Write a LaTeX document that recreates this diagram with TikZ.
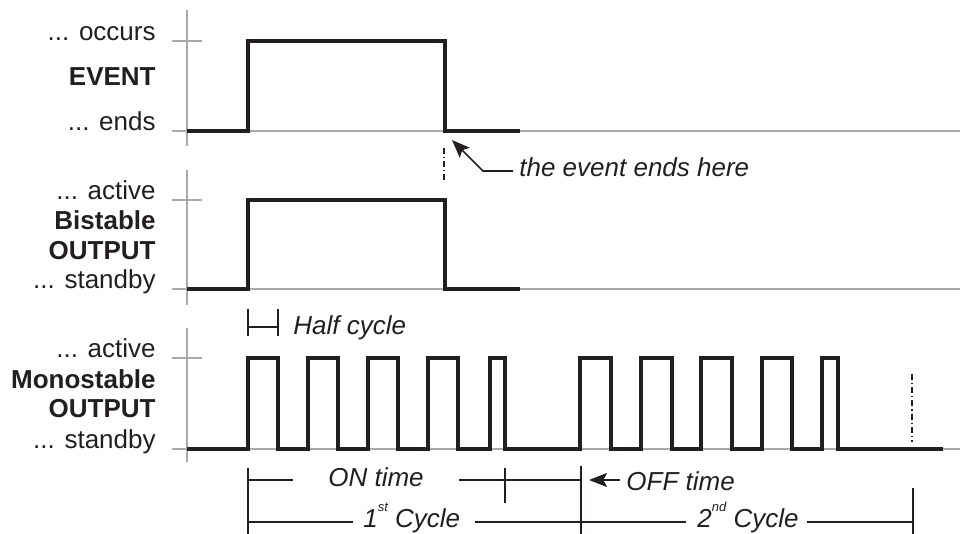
\documentclass[tikz,border=0pt]{standalone}
\usepackage{fontspec}
\setmainfont{Liberation Sans}
\usetikzlibrary{arrows.meta}
\definecolor{ink}{RGB}{35,31,32}
\definecolor{axisgrey}{RGB}{168,169,172}
\begin{document}
\begin{tikzpicture}[x=0.5pt,y=-0.5pt,
  axisline/.style={axisgrey,line width=1.4pt},
  sig/.style={ink,line width=1.6pt,line join=miter},
  dim/.style={ink,line width=0.8pt},
  lbl/.style={anchor=base east,inner sep=0pt,text=ink,font=\fontsize{13}{13}\selectfont},
  blbl/.style={lbl,font=\fontsize{13}{13}\selectfont\bfseries},
  note/.style={anchor=base west,inner sep=0pt,text=ink,font=\fontsize{13}{13}\selectfont\itshape},
  dashdot/.style={ink,line width=0.7pt,dash pattern=on 3pt off 1.5pt on 0.6pt off 1.5pt},
  tip/.style={-{Stealth[length=9pt,width=7pt,inset=1.8pt]}}
]
\useasboundingbox (0,0) rectangle (960,534);

% ---------- axes ----------
\draw[axisline] (187,10) -- (187,146);
\draw[axisline] (172,41) -- (202,41);
\draw[axisline] (172,131) -- (960,131);
\draw[axisline] (187,170) -- (187,305);
\draw[axisline] (172,200) -- (202,200);
\draw[axisline] (172,289) -- (960,289);
\draw[axisline] (187,328) -- (187,462);
\draw[axisline] (172,358) -- (202,358);
\draw[axisline] (172,449) -- (960,449);

% ---------- labels ----------
\node[lbl]  (occ) at (156,41)  {... occurs};
\node[blbl] (ev)  at (156,86)  {EVENT};
\node[lbl]  (end) at (156,131) {... ends};
\node[lbl]  (ba)  at (156,200) {... active};
\node[blbl] (bb)  at (156,230) {Bistable};
\node[blbl] (bo)  at (156,260) {OUTPUT};
\node[lbl]  (bs)  at (156,289) {... standby};
\node[lbl]  (ma)  at (156,358) {... active};
\node[blbl] (mm)  at (156,389) {Monostable};
\node[blbl] (mo)  at (156,418) {OUTPUT};
\node[lbl]  (ms)  at (156,449) {... standby};

% ---------- signals ----------
\draw[sig] (187,131) -- (248,131) -- (248,41) -- (445,41) -- (445,131) -- (520,131);
\draw[sig] (187,289) -- (248,289) -- (248,200) -- (445,200) -- (445,289) -- (520,289);
\draw[sig] (187,449) -- (248,449) -- (248,358) -- (278,358) -- (278,449)
  -- (308,449) -- (308,358) -- (338,358) -- (338,449)
  -- (368,449) -- (368,358) -- (398,358) -- (398,449)
  -- (428,449) -- (428,358) -- (458,358) -- (458,449)
  -- (490,449) -- (490,358) -- (505,358) -- (505,449)
  -- (580,449) -- (580,358) -- (611,358) -- (611,449)
  -- (641,449) -- (641,358) -- (672,358) -- (672,449)
  -- (701,449) -- (701,358) -- (732,358) -- (732,449)
  -- (762,449) -- (762,358) -- (792,358) -- (792,449)
  -- (822,449) -- (822,358) -- (838,358) -- (838,449) -- (943,449);

% ---------- dash-dot markers ----------
\draw[dashdot] (444,148) -- (444,183);
\draw[dashdot] (912,374) -- (912,442);

% ---------- event ends annotation ----------
\node[note] (evt) at (519,177) {the event ends here};
\coordinate (evtail) at (513,171);
\coordinate (evbend) at (483,171);
\coordinate (evtip)  at (452,140);
\draw[dim,tip] (evtail) -- (evbend) -- (evtip);

% ---------- half cycle ----------
\coordinate (hc1) at (248,327);
\coordinate (hc2) at (278,327);
\draw[dim] (248,309) -- (248,336);
\draw[dim] (278,309) -- (278,336);
\draw[dim] (hc1) -- (hc2);
\node[note] (half) at (293,335) {Half cycle};

% ---------- ON / OFF time ----------
\coordinate (L)  at (248,468);
\coordinate (M)  at (581,466);
\coordinate (R)  at (913,488);
\draw[dim] (L) -- (248,534);
\draw[dim] (M) -- (581,534);
\draw[dim] (R) -- (913,534);
\node[note,anchor=base] (on) at (376,487) {ON time};
\draw[dim] (248,480) -- (293,480);
\draw[dim] (459,480) -- (581,480);
\draw[dim] (505,468) -- (505,503);
\node[note] (off) at (626,491) {OFF time};
\coordinate (offtail) at (620,480);
\coordinate (offtip)  at (589,480);
\draw[dim,tip] (offtail) -- (offtip);

% ---------- cycles ----------
\node[note] (c1) at (363,528) {1\raisebox{0.62em}{\fontsize{6.5}{6.5}\selectfont st} Cycle};
\node[note] (c2) at (697,528) {2\raisebox{0.62em}{\fontsize{6.5}{6.5}\selectfont nd} Cycle};
\draw[dim] (248,522) -- (353,522);
\draw[dim] (475,522) -- (581,522);
\draw[dim] (581,522) -- (686,522);
\draw[dim] (807,522) -- (913,522);
\end{tikzpicture}
\end{document}
